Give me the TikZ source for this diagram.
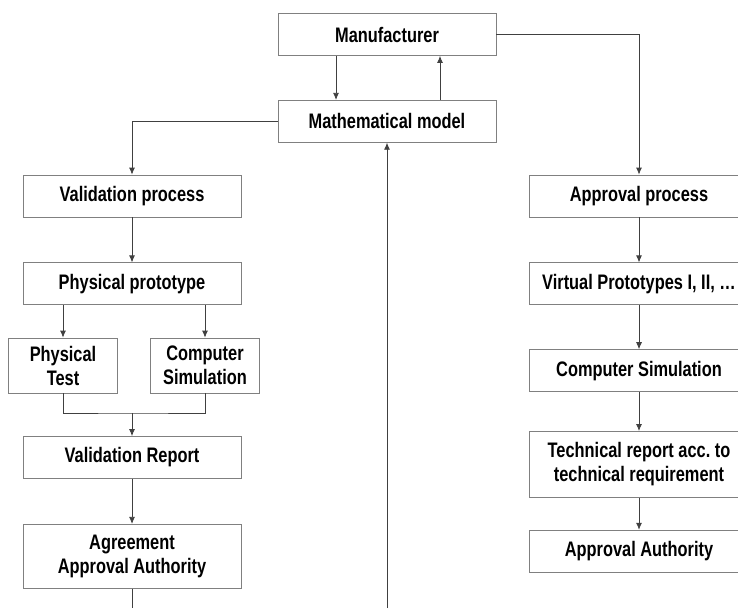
\documentclass[tikz,border=0pt]{standalone}
\usepackage{fontspec}
\setmainfont{Liberation Sans}[FakeStretch=0.78]
\usetikzlibrary{arrows.meta,positioning}
\tikzstyle{box}=[rectangle,draw=black!50,line width=0.8pt,minimum width=218pt,minimum height=42pt,inner sep=2pt,align=center,font=\bfseries\fontsize{21}{24}\selectfont]
\tikzstyle{halfbox}=[box,minimum width=109pt,minimum height=55pt]

\begin{document}
\begin{tikzpicture}[->,>={Latex[length=7pt,width=6pt]},x=1pt,y=1pt,node distance=45pt,
                    line width=0.8pt,draw=black!75]
  \useasboundingbox (0,0) rectangle (738,-608);
  \clip (0,0) rectangle (738,-608);

  \node[box]      (manu)                 at (387,-34.5) {Manufacturer};
  \node[box]      (math)  [below=44pt of manu]          {Mathematical model};
  \node[box]      (valp)                 at (132,-196)  {Validation process};
  \node[box]      (phys)  [below=of valp]               {Physical prototype};
  \node[halfbox]  (test)                 at (63,-365.5) {Physical\\Test};
  \node[halfbox]  (csim)                 at (205,-365.5) {Computer\\Simulation};
  \node[box]      (vrep)                 at (132,-457.5) {Validation Report};
  \node[box,minimum height=64pt] (agree) [below=of vrep] {Agreement\\Approval Authority};
  \node[box,minimum width=220pt] (appr)  at (639,-196)  {Approval process};
  \node[box,minimum width=220pt] (virt)  [below=of appr] {Virtual Prototypes I, II, \dots};
  \node[box,minimum width=220pt] (csimb) [below=44pt of virt] {Computer Simulation};
  \node[box,minimum width=220pt,minimum height=66pt] (tech) [below=39pt of csimb] {Technical report acc.\ to\\technical requirement};
  \node[box,minimum width=220pt] (auth)  [below=32pt of tech] {Approval Authority};
  \coordinate (merge) at (132,-413);
  \coordinate (endl)  at (132,-608);
  \coordinate (endm)  at (387,-608);

  \draw ([xshift=-51pt]manu.south) -- ([xshift=-51pt]math.north);
  \draw ([xshift=53pt]math.north) -- ([xshift=53pt]manu.south);
  \draw (math.west) -| (valp.north);
  \draw (manu.east) -| (appr.north);
  \draw (valp) -- (phys);
  \draw (phys.south -| test.north) -- (test.north);
  \draw (phys.south -| csim.north) -- (csim.north);
  \draw[-] (test.south) |- (merge) -| (csim.south);
  \draw (merge) -- (vrep.north);
  \draw (vrep) -- (agree);
  \draw[-] (agree.south) -- (endl);
  \draw (endm) -- (math.south);
  \draw (appr) -- (virt);
  \draw (virt) -- (csimb);
  \draw (csimb) -- (tech);
  \draw (tech) -- (auth);
\end{tikzpicture}
\end{document}
